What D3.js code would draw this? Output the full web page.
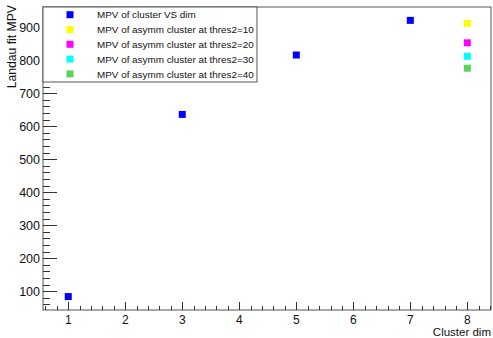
<!DOCTYPE html>
<html><head><meta charset="utf-8">
<script src="https://cdn.jsdelivr.net/npm/d3@7"></script>
<style>body{margin:0;background:#fff}svg{display:block}text{font-family:"Liberation Sans",Arial,sans-serif}</style>
</head><body>
<script>
const dimX = [1, 3, 5, 7];
const mpvVsDim = [84, 636, 816, 921];
const asymX = [8, 8, 8, 8];
const asymMPV = [912, 853, 812, 776];
const asymColors = ["#ffff00", "#ff00ff", "#00ffff", "#5bd45b"];
const legendLabels = ["MPV of cluster VS dim", "MPV of asymm cluster at thres2=10", "MPV of asymm cluster at thres2=20", "MPV of asymm cluster at thres2=30", "MPV of asymm cluster at thres2=40"];
const legendColors = ["#0000ff", ...asymColors];
const xTicks = [1, 2, 3, 4, 5, 6, 7, 8];
const yTicks = [100, 200, 300, 400, 500, 600, 700, 800, 900];

const W = 493, H = 338;
const L = 43, R = 491, T = 7, B = 310;
const svg = d3.select("body").append("svg").attr("width", W).attr("height", H);
const x = d3.scaleLinear().domain([0.557, 8.415]).range([L, R]);
const y = d3.scaleLinear().domain([43.3, 961.5]).range([B, T]);

// frame
svg.append("rect").attr("x", L).attr("y", T).attr("width", R - L).attr("height", B - T)
  .attr("fill", "none").attr("stroke", "#555").attr("stroke-width", 1);

// x ticks
const xMinor = d3.range(0.6, 8.42, 0.2);
svg.append("g").selectAll("line").data(xMinor).join("line")
  .attr("x1", d => Math.round(x(d)) + 0.5).attr("x2", d => Math.round(x(d)) + 0.5)
  .attr("y1", B).attr("y2", d => Math.abs(d - Math.round(d)) < 1e-6 ? B - 8 : B - 4)
  .attr("stroke", "#333");
svg.append("g").selectAll("text").data(xTicks).join("text")
  .attr("x", d => x(d)).attr("y", 324).attr("text-anchor", "middle")
  .attr("font-size", 12).attr("fill", "#111").text(d => d);

// y ticks
const yMinor = d3.range(60, 961, 20);
svg.append("g").selectAll("line").data(yMinor).join("line")
  .attr("y1", d => Math.round(y(d)) + 0.5).attr("y2", d => Math.round(y(d)) + 0.5)
  .attr("x1", L).attr("x2", d => d % 100 === 0 ? L + 14 : L + 7)
  .attr("stroke", "#333");
svg.append("g").selectAll("text").data(yTicks).join("text")
  .attr("x", 40).attr("y", d => y(d) + 4.5).attr("text-anchor", "end")
  .attr("font-size", 12.5).attr("fill", "#111").text(d => d);

// titles
svg.append("text").attr("x", 491).attr("y", 335.5).attr("text-anchor", "end")
  .attr("font-size", 11.5).attr("fill", "#111").text("Cluster dim");
svg.append("text").attr("transform", "translate(16,5) rotate(-90)").attr("text-anchor", "end")
  .attr("font-size", 12.2).attr("fill", "#111").text("Landau fit MPV");

// points
const ms = 7;
svg.append("g").selectAll("rect").data(dimX.map((d, i) => [d, mpvVsDim[i]])).join("rect")
  .attr("x", d => x(d[0]) - ms / 2).attr("y", d => y(d[1]) - ms / 2)
  .attr("width", ms).attr("height", ms).attr("fill", "#0000ff");
svg.append("g").selectAll("rect").data(asymX.map((d, i) => [d, asymMPV[i], asymColors[i]])).join("rect")
  .attr("x", d => x(d[0]) - ms / 2).attr("y", d => y(d[1]) - ms / 2)
  .attr("width", ms).attr("height", ms).attr("fill", d => d[2]);

// legend
const lg = svg.append("g");
lg.append("rect").attr("x", L).attr("y", T).attr("width", 257 - L).attr("height", 82 - T)
  .attr("fill", "#fff").attr("stroke", "#555").attr("stroke-width", 1);
const rows = lg.selectAll("g").data(legendLabels).join("g")
  .attr("transform", (d, i) => `translate(0,${14.7 + i * 14.8})`);
rows.append("rect").attr("x", 70 - 3.5).attr("y", -3.5).attr("width", 7).attr("height", 7)
  .attr("fill", (d, i) => legendColors[i]);
rows.append("text").attr("x", 97).attr("y", 3.6).attr("font-size", 9.9).attr("fill", "#111").text(d => d);
</script>
</body></html>
